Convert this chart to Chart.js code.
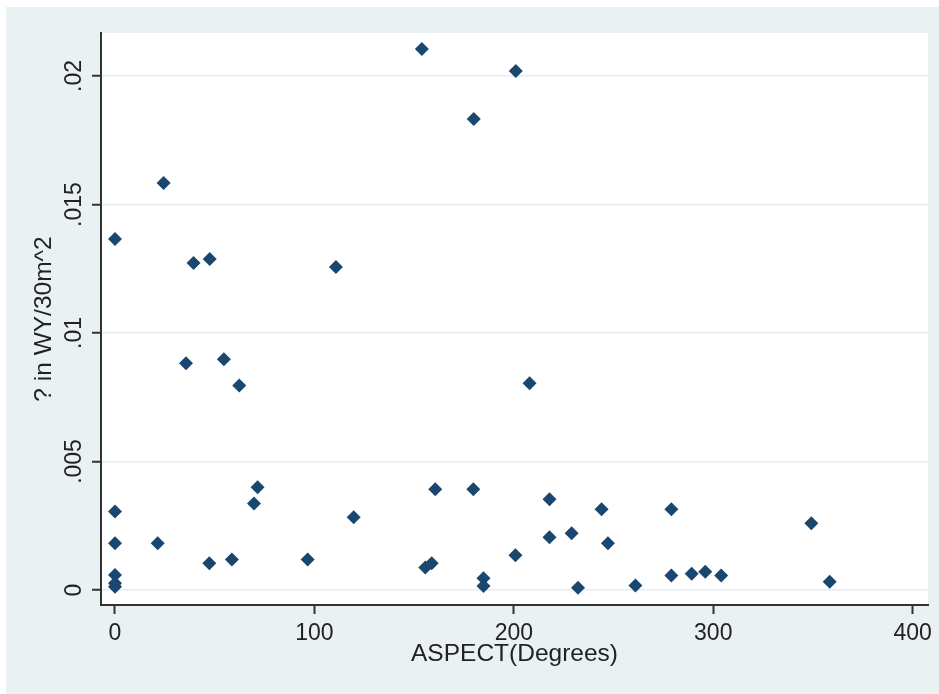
<!DOCTYPE html>
<html>
<head>
<meta charset="utf-8">
<script src="https://cdn.jsdelivr.net/npm/chart.js@4"></script>
<style>
  html, body { margin: 0; padding: 0; background: #ffffff; }
  #wrap { width: 939px; height: 694px; position: relative; }
</style>
</head>
<body>
<div id="wrap"><canvas id="scatterChart"></canvas></div>
<script>
// aspect (degrees) and value per point
const aspect = [
  0, 24.4, 39.4, 47.5, 35.6, 54.6, 62.3, 110.8, 153.9, 201, 179.9, 207.9,
  0, 0, 0, 0, 0, 21.4, 47.3, 58.6, 69.7, 71.5, 96.6, 119.7,
  155.6, 158.8, 160.6, 179.7, 184.8, 184.8, 200.8, 217.9, 217.9, 229, 232.2,
  244, 247.2, 261, 279, 279, 289.2, 296, 304, 349.2, 358.4
];
const wyValues = [
  0.01366, 0.01584, 0.01272, 0.01288, 0.00882, 0.00898, 0.00796, 0.01257, 0.02105, 0.02019, 0.01833, 0.00804,
  0.00305, 0.00182, 0.00058, 0.00026, 0.00013, 0.00182, 0.00104, 0.00119, 0.00337, 0.004, 0.00119, 0.00283,
  0.00088, 0.00104, 0.00392, 0.00392, 0.00046, 0.00016, 0.00135, 0.00353, 0.00205, 0.00221, 0.00009,
  0.00314, 0.00182, 0.00017, 0.00056, 0.00314, 0.00063, 0.00071, 0.00056, 0.0026, 0.00032
];

// ticks
const xTicks = [0, 100, 200, 300, 400];
const yTicks = [0, 0.005, 0.01, 0.015, 0.02];
const yTickLabels = ["0", ".005", ".01", ".015", ".02"];

const points = aspect.map((a, i) => ({ x: a, y: wyValues[i] }));

const TICK_FONT = { family: "'Liberation Sans', Arial, sans-serif", size: 23 };
const TITLE_FONT = { family: "'Liberation Sans', Arial, sans-serif", size: 24.5 };

// fondo gris de Stata y área blanca del gráfico
const backgroundPlugin = {
  id: "stataBackground",
  beforeDraw(chart) {
    const ctx = chart.ctx;
    const area = chart.chartArea;
    ctx.save();
    ctx.fillStyle = "#ffffff";
    ctx.fillRect(0, 0, chart.width, chart.height);
    ctx.fillStyle = "#eaf1f3";
    ctx.fillRect(6, 7, chart.width - 6, chart.height - 7);
    ctx.fillStyle = "#ffffff";
    ctx.fillRect(area.left, area.top, area.right - area.left, area.bottom - area.top);
    ctx.restore();
  }
};

new Chart(document.getElementById("scatterChart"), {
  type: "scatter",
  data: {
    datasets: [{
      data: points,
      pointStyle: "rectRot",
      pointRadius: 7,
      pointBackgroundColor: "#1a476f",
      pointBorderWidth: 0
    }]
  },
  options: {
    responsive: true,
    maintainAspectRatio: false,
    animation: false,
    events: [],
    layout: { padding: { left: 0, top: 33, right: 11, bottom: 0 } },
    plugins: {
      legend: { display: false },
      tooltip: { enabled: false }
    },
    scales: {
      x: {
        type: "linear",
        min: -7.02,
        max: 407.7,
        afterBuildTicks: (scale) => { scale.ticks = xTicks.map(v => ({ value: v })); },
        afterFit: (scale) => { scale.height = 89; },
        grid: { display: true, drawOnChartArea: false, drawTicks: true, tickLength: 9, tickColor: "#333", tickWidth: 2 },
        border: { display: true, color: "#333", width: 2 },
        ticks: { font: TICK_FONT, color: "#222", padding: 6, maxRotation: 0, callback: (v) => String(v) },
        title: { display: true, text: "ASPECT(Degrees)", font: TITLE_FONT, color: "#222", padding: 25 }
      },
      y: {
        type: "linear",
        min: -0.000584,
        max: 0.021673,
        afterBuildTicks: (scale) => { scale.ticks = yTicks.map(v => ({ value: v })); },
        afterFit: (scale) => { scale.width = 101; },
        grid: { color: "#e3ecef", lineWidth: 1.5, tickLength: 9, tickColor: "#333", tickWidth: 2 },
        border: { display: true, color: "#333", width: 2 },
        ticks: {
          font: TICK_FONT, color: "#222", padding: -5,
          minRotation: 90, maxRotation: 90, crossAlign: "center",
          callback: (v) => { const i = yTicks.indexOf(v); return i >= 0 ? yTickLabels[i] : ""; }
        },
        title: { display: true, text: "? in WY/30m^2", font: TITLE_FONT, color: "#222", padding: 30 }
      }
    }
  },
  plugins: [backgroundPlugin]
});
</script>
</body>
</html>
